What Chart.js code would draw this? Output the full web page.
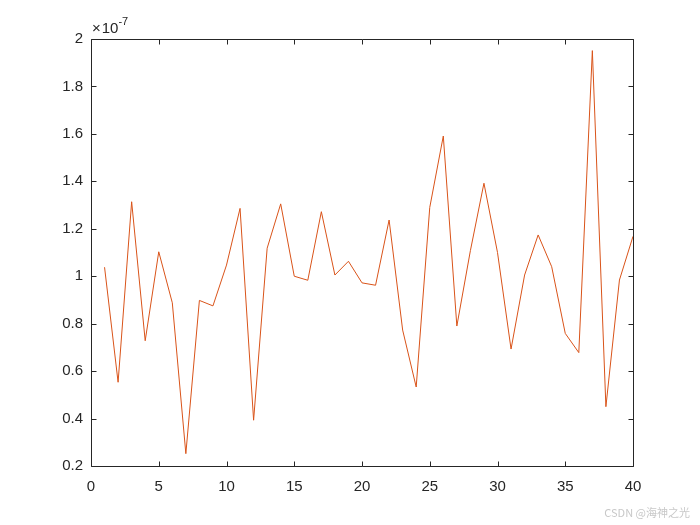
<!DOCTYPE html>
<html>
<head>
<meta charset="utf-8">
<script src="https://cdn.jsdelivr.net/npm/chart.js@4"></script>
<style>
html,body{margin:0;padding:0;background:#fff;}
#wrap{position:relative;width:700px;height:525px;}
</style>
</head>
<body>
<div id="wrap"><canvas id="c" width="700" height="525"></canvas></div>
<script>
const xValues = [1,2,3,4,5,6,7,8,9,10,11,12,13,14,15,16,17,18,19,20,21,22,23,24,25,26,27,28,29,30,31,32,33,34,35,36,37,38,39,40];
const yValues = [1.038,0.553,1.314,0.728,1.103,0.888,0.252,0.898,0.875,1.047,1.286,0.393,1.118,1.305,1.000,0.983,1.272,1.005,1.063,0.972,0.962,1.237,0.773,0.533,1.290,1.591,0.790,1.108,1.392,1.100,0.693,1.005,1.174,1.040,0.759,0.678,1.951,0.450,0.984,1.168];
const xTicks = [0,5,10,15,20,25,30,35,40];
const yTicks = [0.2,0.4,0.6,0.8,1,1.2,1.4,1.6,1.8,2];
const exponentLabel = ['\u00d710', '-7'];
const watermark = 'CSDN @海神之光';

const FONT = 'Liberation Sans, Arial, sans-serif';
const TXT = '#262626';

const boxPlugin = {
  id: 'boxPlugin',
  afterDraw(chart) {
    const ctx = chart.ctx, a = chart.chartArea;
    const xs = chart.scales.x, ys = chart.scales.y;
    ctx.save();
    ctx.strokeStyle = TXT;
    ctx.lineWidth = 1;
    ctx.beginPath();
    const L = Math.round(a.left)+0.5, R = Math.round(a.right)+0.5, T = Math.round(a.top)+0.5, B = Math.round(a.bottom)+0.5;
    ctx.rect(L, T, R-L, B-T);
    const tl = 5;
    xTicks.forEach(v => {
      const px = Math.round(xs.getPixelForValue(v))+0.5;
      ctx.moveTo(px, B); ctx.lineTo(px, B-tl);
      ctx.moveTo(px, T); ctx.lineTo(px, T+tl);
    });
    yTicks.forEach(v => {
      const py = Math.round(ys.getPixelForValue(v))+0.5;
      ctx.moveTo(L, py); ctx.lineTo(L+tl, py);
      ctx.moveTo(R, py); ctx.lineTo(R-tl, py);
    });
    ctx.stroke();
    // exponent label
    ctx.fillStyle = TXT;
    ctx.textBaseline = 'alphabetic';
    ctx.textAlign = 'left';
    ctx.font = '15px ' + FONT;
    ctx.fillText('\u00d7', a.left + 1, a.top - 6);
    const w0 = ctx.measureText('\u00d7').width;
    ctx.fillText('10', a.left + 2 + w0, a.top - 6);
    const w = w0 + 1 + ctx.measureText('10').width;
    ctx.font = '11px ' + FONT;
    ctx.fillText(exponentLabel[1], a.left + 1 + w, a.top - 14);
    // watermark
    ctx.font = '11px "Noto Sans CJK SC", sans-serif';
    ctx.fillStyle = '#c8c8c8';
    ctx.textAlign = 'right';
    ctx.fillText(watermark, 690, 517);
    ctx.restore();
  }
};

new Chart(document.getElementById('c'), {
  type: 'line',
  data: {
    datasets: [{
      data: xValues.map((x, i) => ({x: x, y: yValues[i]})),
      borderColor: '#D95319',
      borderWidth: 1,
      pointRadius: 0,
      tension: 0,
      fill: false
    }]
  },
  options: {
    responsive: false,
    animation: false,
    devicePixelRatio: 1,
    layout: {padding: {left: 0, top: 39, right: 67, bottom: 0}},
    plugins: {legend: {display: false}, tooltip: {enabled: false}},
    scales: {
      x: {
        type: 'linear', min: 0, max: 40,
        afterBuildTicks: s => { s.ticks = xTicks.map(v => ({value: v})); },
        afterFit: s => { s.height = 59; },
        grid: {display: false, drawTicks: false},
        border: {display: false},
        ticks: {color: TXT, font: {family: FONT, size: 15}, padding: 12, maxRotation: 0,
          callback: v => String(v)}
      },
      y: {
        type: 'linear', min: 0.2, max: 2,
        afterBuildTicks: s => { s.ticks = yTicks.map(v => ({value: v})); },
        afterFit: s => { s.width = 91; },
        grid: {display: false, drawTicks: false},
        border: {display: false},
        ticks: {color: TXT, font: {family: FONT, size: 15}, padding: 8,
          callback: v => String(Math.round(v*10)/10)}
      }
    }
  },
  plugins: [boxPlugin]
});
</script>
</body>
</html>
